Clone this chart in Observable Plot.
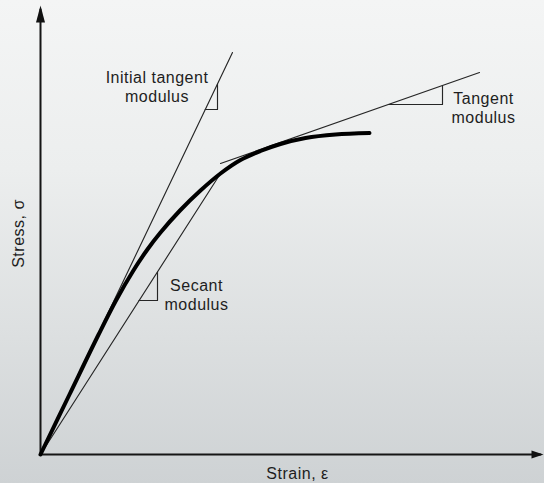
<!DOCTYPE html>
<html>
<head>
<meta charset="utf-8">
<script src="https://cdn.jsdelivr.net/npm/d3@7"></script>
<script src="https://cdn.jsdelivr.net/npm/@observablehq/plot@0.6"></script>
<style>
  html, body { margin: 0; padding: 0; }
  body {
    width: 544px; height: 483px; overflow: hidden;
    background: linear-gradient(to bottom, #f4f5f5 0%, #eceeee 35%, #dcdfe0 70%, #ced2d4 100%);
  }
  svg { display: block; }
  svg text { letter-spacing: 0.5px; }
</style>
</head>
<body>
<div id="chart"></div>
<script>
// Stress–strain curve (schematic units)
const strain = [0, 0.58, 1.162, 1.51, 1.858, 2.138, 2.4, 2.79, 3.2, 3.6, 4.0, 4.4, 4.8, 5.3, 5.9, 6.58];
const stress = [0, 1.2, 2.4, 3.08, 3.68, 4.1, 4.44, 4.88, 5.28, 5.62, 5.89, 6.07, 6.21, 6.33, 6.4, 6.43];

// Construction lines
const initialTangentX = [0, 3.84];
const initialTangentY = [0, 8.04];
const secantX = [0, 3.6];
const secantY = [0, 5.62];
const tangentX = [3.6, 8.78];
const tangentY = [5.82, 7.64];

// Slope triangles
const initialTriX = [3.54, 3.54, 3.295];
const initialTriY = [7.41, 6.9, 6.9];
const secantTriX = [2.34, 2.34, 1.97];
const secantTriY = [3.65, 3.08, 3.08];
const tangentTriX = [8.04, 8.04, 6.96];
const tangentTriY = [7.38, 7.0, 7.0];

// Axes
const xAxisX = [0, 10.0];
const xAxisY = [0, 0];
const yAxisX = [0, 0];
const yAxisY = [0, 8.9];

// Labels
const labelText = ["Initial tangent\nmodulus", "Tangent\nmodulus", "Secant\nmodulus"];
const labelX = [2.33, 8.86, 3.12];
const labelY = [7.36, 6.95, 3.2];
const xTitle = "Strain, ε";
const yTitle = "Stress, σ";

const pts = (xs, ys, id) => xs.map((x, i) => ({x, y: ys[i], id}));
const curveData = pts(strain, stress, "curve");
const thinLines = [
  ...pts(initialTangentX, initialTangentY, "initial"),
  ...pts(secantX, secantY, "secant"),
  ...pts(tangentX, tangentY, "tangent"),
  ...pts(initialTriX, initialTriY, "triI"),
  ...pts(secantTriX, secantTriY, "triS"),
  ...pts(tangentTriX, tangentTriY, "triT")
];
const axisLines = [...pts(xAxisX, xAxisY, "xa"), ...pts(yAxisX, yAxisY, "ya")];
const labels = labelText.map((t, i) => ({t, x: labelX[i], y: labelY[i]}));

const arrowHeadY = {draw(ctx) { ctx.moveTo(0, 0); ctx.lineTo(4.5, 17); ctx.lineTo(-4.5, 17); ctx.closePath(); }};
const arrowHeadX = {draw(ctx) { ctx.moveTo(0, 0); ctx.lineTo(4, 12); ctx.lineTo(-4, 12); ctx.closePath(); }};

const font = "'Liberation Sans', Arial, Helvetica, sans-serif";

const chart = Plot.plot({
  width: 544,
  height: 483,
  marginLeft: 40,
  marginRight: 4,
  marginTop: 4,
  marginBottom: 29,
  x: {domain: [0, 10], axis: null},
  y: {domain: [0, 9], axis: null},
  style: {background: "transparent", fontFamily: font, overflow: "visible"},
  marks: [
    Plot.line(axisLines, {x: "x", y: "y", z: "id", stroke: "#151515", strokeWidth: 2}),
    Plot.dot([{x: 0, y: 8.98}], {x: "x", y: "y", symbol: arrowHeadY, fill: "#111", stroke: "none"}),
    Plot.dot([{x: 10.06, y: 0}], {x: "x", y: "y", symbol: arrowHeadX, rotate: 90, fill: "#111", stroke: "none"}),
    Plot.line(thinLines, {x: "x", y: "y", z: "id", stroke: "#262626", strokeWidth: 1.15}),
    Plot.line(curveData, {x: "x", y: "y", curve: "catmull-rom", stroke: "#000", strokeWidth: 4, strokeLinecap: "round"}),
    Plot.text(labels, {x: "x", y: "y", text: "t", fontSize: 16, lineHeight: 1.2, fill: "#1e1e1e", textAnchor: "middle", lineAnchor: "middle", fontFamily: font}),
    Plot.text([xTitle], {x: 5.14, y: -0.38, text: d => d, fontSize: 16, fill: "#1e1e1e", lineAnchor: "middle", fontFamily: font}),
    Plot.text([yTitle], {x: -0.43, y: 4.42, text: d => d, fontSize: 16, fill: "#1e1e1e", rotate: -90, lineAnchor: "middle", fontFamily: font})
  ]
});
document.getElementById("chart").appendChild(chart);
</script>
</body>
</html>
